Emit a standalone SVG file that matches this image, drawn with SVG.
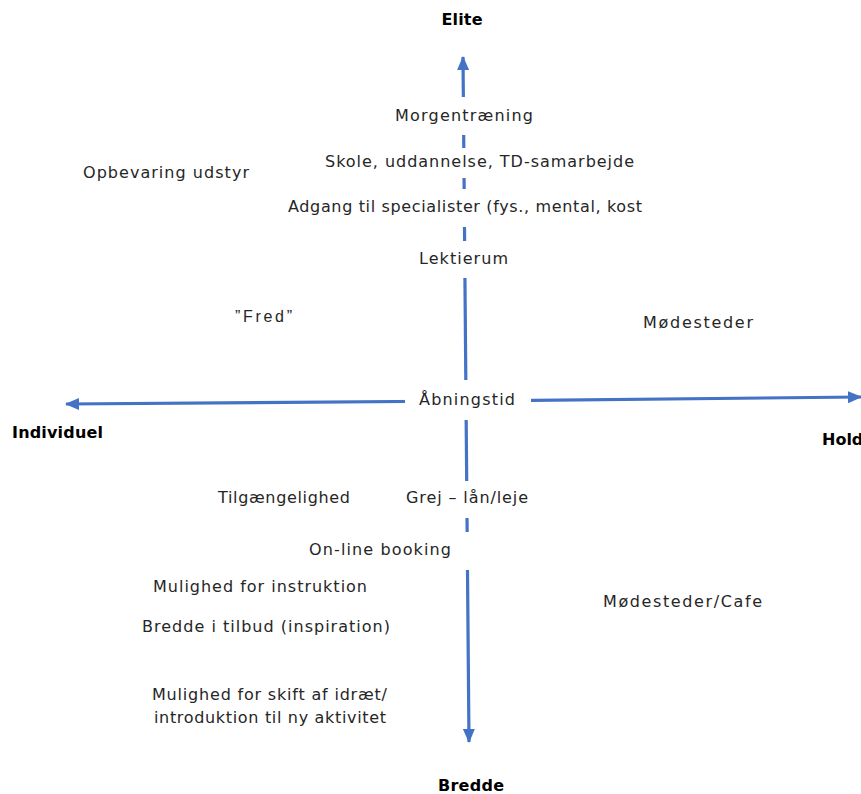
<svg xmlns="http://www.w3.org/2000/svg" width="861" height="794" viewBox="0 0 861 794">
<style>
.t{font-family:"DejaVu Sans","Liberation Sans",sans-serif;font-size:16px;fill:#262626}
.b{font-family:"DejaVu Sans","Liberation Sans",sans-serif;font-size:16px;font-weight:bold;fill:#000}
.a{stroke:#4472C4;stroke-width:3.2;fill:none}
.bg{fill:#fff}
</style>
<defs>
<marker id="arr" markerUnits="userSpaceOnUse" markerWidth="16" markerHeight="14" refX="13" refY="7" orient="auto">
<path d="M0,1 L14,7 L0,13 Z" fill="#4472C4"/>
</marker>
</defs>
<rect width="861" height="794" fill="#fff"/>
<g id="connectors">
<line class="a" x1="466" y1="401" x2="463" y2="57" marker-end="url(#arr)"/>
<line class="a" x1="466" y1="401" x2="469" y2="742" marker-end="url(#arr)"/>
<line class="a" x1="466" y1="401" x2="66" y2="404" marker-end="url(#arr)"/>
<line class="a" x1="466" y1="401" x2="861" y2="397" marker-end="url(#arr)"/>
</g>
<g id="axis-elite"><text class="b" x="462" y="25" text-anchor="middle" textLength="41">Elite</text></g>
<g id="axis-individuel"><text class="b" x="12" y="438" textLength="91">Individuel</text></g>
<g id="axis-hold"><text class="b" x="822" y="445">Hold</text></g>
<g id="axis-bredde"><text class="b" x="438" y="791" textLength="66">Bredde</text></g>
<g id="n-morgen"><rect class="bg" x="390" y="97" width="150" height="38"/><text class="t" x="395" y="121" textLength="138">Morgentræning</text></g>
<g id="n-skole"><rect class="bg" x="320" y="148" width="320" height="30"/><text class="t" x="325" y="167" textLength="309">Skole, uddannelse, TD-samarbejde</text></g>
<g id="n-adgang"><rect class="bg" x="284" y="189" width="362" height="38"/><text class="t" x="288" y="212" textLength="354">Adgang til specialister (fys., mental, kost</text></g>
<g id="n-lektie"><rect class="bg" x="414" y="241" width="100" height="37"/><text class="t" x="419" y="264" textLength="89">Lektierum</text></g>
<g id="n-opbevaring"><text class="t" x="83" y="178" textLength="166">Opbevaring udstyr</text></g>
<g id="n-fred"><text x="235" y="322" font-family="Liberation Sans, Arial, sans-serif" font-size="16" fill="#262626" textLength="57">”Fred”</text></g>
<g id="n-modesteder"><text class="t" x="643" y="328" textLength="110">Mødesteder</text></g>
<g id="n-abning"><rect class="bg" x="405" y="380" width="126" height="40"/><text class="t" x="419" y="405" textLength="96">Åbningstid</text></g>
<g id="n-tilg"><text class="t" x="218" y="503" textLength="132">Tilgængelighed</text></g>
<g id="n-grej"><rect class="bg" x="402" y="481" width="130" height="37"/><text class="t" x="406" y="503" textLength="122">Grej – lån/leje</text></g>
<g id="n-online"><rect class="bg" x="305" y="532" width="170" height="38"/><text class="t" x="309" y="555" textLength="142">On-line booking</text></g>
<g id="n-instr"><text class="t" x="153" y="592" textLength="214">Mulighed for instruktion</text></g>
<g id="n-bredde-tilbud"><text class="t" x="142" y="632" textLength="248">Bredde i tilbud (inspiration)</text></g>
<g id="n-cafe"><text class="t" x="603" y="607" textLength="159">Mødesteder/Cafe</text></g>
<g id="n-skift"><text class="t" x="152" y="700" textLength="235">Mulighed for skift af idræt/</text><text class="t" x="154" y="723" textLength="232">introduktion til ny aktivitet</text></g>
</svg>
